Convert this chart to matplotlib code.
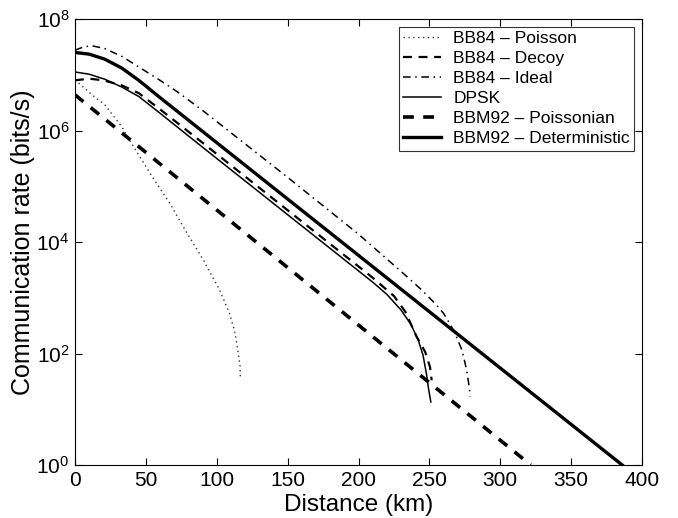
import numpy as np
import matplotlib
matplotlib.use("Agg")
from matplotlib import pyplot as plt
from matplotlib.ticker import FixedLocator, NullLocator

plt.rcParams['font.family'] = ['Liberation Sans', 'DejaVu Sans']
plt.rcParams['mathtext.default'] = 'regular'

# distance (km) and log10 of rate (bits/s)
poisson_km = [0, 12, 21, 33, 37, 43.5, 55, 67, 79, 90.5, 102, 109, 113, 115.2, 116.4, 116.6]
poisson_lg = [6.91, 6.64, 6.46, 6.07, 5.89, 5.62, 5.15, 4.69, 4.16, 3.68, 3.14, 2.72, 2.36, 2.00, 1.79, 1.58]

decoy_km = [0, 10, 20, 33, 45, 60, 90, 150, 210, 225, 233, 241, 247, 250.4, 251.6]
decoy_lg = [6.90, 6.93, 6.90, 6.81, 6.67, 6.38, 5.78, 4.57, 3.36, 3.03, 2.75, 2.30, 2.03, 1.76, 1.52]

ideal_km = [0, 6, 12, 21, 33, 45, 60, 73, 90, 150, 200, 231, 245, 255, 260, 267, 273, 276.3, 278.2, 278.7]
ideal_lg = [7.44, 7.50, 7.52, 7.47, 7.33, 7.14, 6.90, 6.68, 6.36, 5.16, 4.14, 3.45, 3.13, 2.87, 2.72, 2.42, 2.06, 1.70, 1.38, 1.23]

dpsk_km = [0, 10, 21, 33, 45, 60, 90, 150, 210, 220, 230, 237, 242, 245.5, 248, 249.5, 251]
dpsk_lg = [7.05, 7.01, 6.92, 6.78, 6.61, 6.31, 5.70, 4.49, 3.28, 3.06, 2.78, 2.52, 2.25, 1.97, 1.62, 1.35, 1.13]

bbm_pois_km = [0, 321.5]
bbm_pois_lg = [6.64, 0.0]

bbm_det_km = [0, 10, 21, 33, 45, 60, 386]
bbm_det_lg = [7.40, 7.37, 7.28, 7.12, 6.90, 6.59, 0.0]

labels = ['BB84 – Poisson', 'BB84 – Decoy', 'BB84 – Ideal', 'DPSK',
          'BBM92 – Poissonian', 'BBM92 – Deterministic']

fig = plt.figure(figsize=(6.78, 5.18), dpi=100)
ax = fig.add_axes([0.1106, 0.1023, 0.8364, 0.861])

ax.plot(poisson_km, 10 ** np.array(poisson_lg), color='#333333', lw=1.0, linestyle=(0, (1, 2.5)), label=labels[0])
ax.plot(decoy_km, 10 ** np.array(decoy_lg), color='black', lw=1.6, linestyle=(0, (4, 3)), label=labels[1])
ax.plot(ideal_km, 10 ** np.array(ideal_lg), color='black', lw=1.1, linestyle=(0, (5, 3, 1, 3)), label=labels[2])
ax.plot(dpsk_km, 10 ** np.array(dpsk_lg), color='black', lw=1.1, linestyle='-', label=labels[3])
ax.plot(bbm_pois_km, 10 ** np.array(bbm_pois_lg), color='black', lw=2.6, linestyle=(0, (3, 2.6)), label=labels[4])
ax.plot(bbm_det_km, 10 ** np.array(bbm_det_lg), color='black', lw=2.4, linestyle='-', label=labels[5])

ax.set_yscale('log')
ax.set_xlim(0, 400)
ax.set_ylim(1, 1e8)
ax.set_xticks(np.arange(0, 401, 50))
ax.yaxis.set_major_locator(FixedLocator([1, 1e2, 1e4, 1e6, 1e8]))
ax.yaxis.set_minor_locator(NullLocator())
ax.set_yticklabels(['$10^{0}$', '$10^{2}$', '$10^{4}$', '$10^{6}$', '$10^{8}$'])
ax.tick_params(direction='in', top=True, right=True, length=5, width=0.8, labelsize=15, pad=4)
for s in ax.spines.values():
    s.set_linewidth(0.8)

ax.set_xlabel('Distance (km)', fontsize=17.5, labelpad=3)
ax.set_ylabel('Communication rate (bits/s)', fontsize=18, labelpad=1)

leg = ax.legend(loc='upper right', fontsize=12.5, frameon=True, fancybox=False,
                edgecolor='black', handlelength=2.2, handletextpad=0.7,
                labelspacing=0.28, borderpad=0.25, borderaxespad=0.45)
leg.get_frame().set_linewidth(0.8)

fig.savefig('out.png', dpi=100)
